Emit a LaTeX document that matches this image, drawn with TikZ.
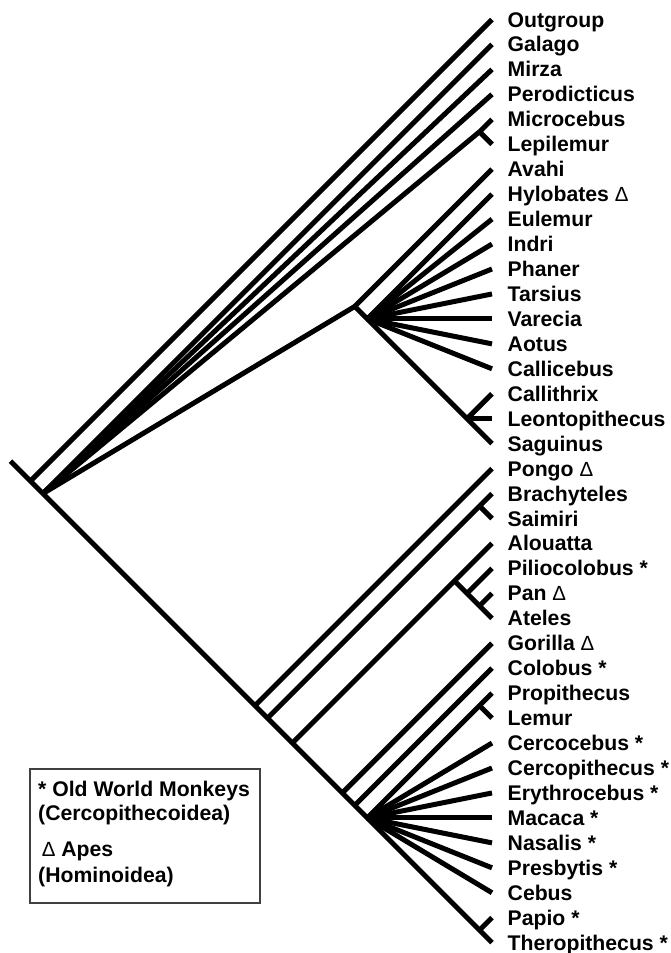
\documentclass[tikz,border=0pt]{standalone}
\usepackage{fontspec}
\setmainfont{Liberation Sans}
\newcommand{\apesign}{{\fontsize{20.5}{22}\selectfont\mdseries Δ}}
\tikzset{
    branch/.style={line width=5pt, line cap=butt, line join=round},
    taxon/.style={anchor=west, inner sep=0pt, text height=15pt, text depth=0pt,
        xshift=15.5pt, font=\fontsize{21.2}{24}\selectfont\bfseries},
    legendtext/.style={anchor=base west, inner sep=0pt, font=\fontsize{21.2}{24}\selectfont\bfseries},
    legendbox/.style={draw=black!75, line width=1.2pt}
}

\begin{document}
\begin{tikzpicture}[x=24.95pt, y=-24.95pt]
    \useasboundingbox (-19.7194,-0.7816) rectangle (7.1343,37.4148);

    % 叶节点 t0 ... t37 和物种名
    \foreach \txt [count=\i from 0] in {Outgroup, Galago, Mirza, Perodicticus, Microcebus,
        Lepilemur, Avahi, Hylobates \apesign, Eulemur, Indri, Phaner, Tarsius, Varecia, Aotus,
        Callicebus, Callithrix, Leontopithecus, Saguinus, Pongo \apesign, Brachyteles, Saimiri,
        Alouatta, Piliocolobus *, Pan \apesign, Ateles, Gorilla \apesign, Colobus *, Propithecus,
        Lemur, Cercocebus *, Cercopithecus *, Erythrocebus *, Macaca *, Nasalis *, Presbytis *,
        Cebus, Papio *, Theropithecus *}
    {
        \coordinate (t\i) at (0,\i);
        \node[taxon] (l\i) at (t\i) {\txt};
    }

    % 内部节点
    \coordinate (rootTip) at (-19.3,17.7);
    \coordinate (root) at (-18.5,18.5);
    \coordinate (ingroup) at (-18,19);
    \coordinate (microLepi) at (-0.5,4.5);
    \coordinate (avahiNode) at (-5.5,11.5);
    \coordinate (fanTop) at (-5,12);
    \coordinate (callNode) at (-1,16);
    \coordinate (pongoNode) at (-9.5,27.5);
    \coordinate (brachyNode) at (-9,28);
    \coordinate (brachySai) at (-0.5,19.5);
    \coordinate (alouNode) at (-8,29);
    \coordinate (alouA) at (-1.5,22.5);
    \coordinate (alouB) at (-1,23);
    \coordinate (alouC) at (-0.5,23.5);
    \coordinate (gorNode) at (-6,31);
    \coordinate (colNode) at (-5.5,31.5);
    \coordinate (fanBot) at (-5,32);
    \coordinate (propLem) at (-0.5,27.5);
    \coordinate (papTher) at (-0.5,36.5);

    % 主干
    \draw[branch] (rootTip) -- (root) -- (ingroup) -- (pongoNode) -- (brachyNode) -- (alouNode)
        -- (gorNode) -- (colNode) -- (fanBot) -- (papTher) -- (t37);
    \draw[branch] (root) -- (t0);

    % 上半部分
    \foreach \n in {t1,t2,t3,microLepi,avahiNode}
        \draw[branch] (ingroup) -- (\n);
    \draw[branch] (microLepi) -- (t4);
    \draw[branch] (microLepi) -- (t5);
    \draw[branch] (avahiNode) -- (t6);
    \draw[branch] (avahiNode) -- (fanTop) -- (callNode) -- (t17);
    \foreach \i in {7,...,14}
        \draw[branch] (fanTop) -- (t\i);
    \draw[branch] (callNode) -- (t15);
    \draw[branch] (callNode) -- (t16);

    % 下半部分
    \draw[branch] (pongoNode) -- (t18);
    \draw[branch] (brachyNode) -- (brachySai) -- (t19);
    \draw[branch] (brachySai) -- (t20);
    \draw[branch] (alouNode) -- (alouA) -- (t21);
    \draw[branch] (alouA) -- (alouB) -- (alouC) -- (t24);
    \draw[branch] (alouB) -- (t22);
    \draw[branch] (alouC) -- (t23);
    \draw[branch] (gorNode) -- (t25);
    \draw[branch] (colNode) -- (t26);
    \draw[branch] (fanBot) -- (propLem) -- (t27);
    \draw[branch] (propLem) -- (t28);
    \foreach \i in {29,...,35}
        \draw[branch] (fanBot) -- (t\i);
    \draw[branch] (papTher) -- (t36);

    % 图例
    \draw[legendbox] (-18.517,30.04) rectangle (-9.299,35.411);
    \node[legendtext] (leg1) at (-18.196,31.122) {* Old World Monkeys};
    \node[legendtext] (leg2) at (-18.196,32.084) {(Cercopithecoidea)};
    \node[legendtext] (leg3) at (-18.05,33.527) {\apesign\ Apes};
    \node[legendtext] (leg4) at (-18.196,34.569) {(Hominoidea)};

\end{tikzpicture}
\end{document}
